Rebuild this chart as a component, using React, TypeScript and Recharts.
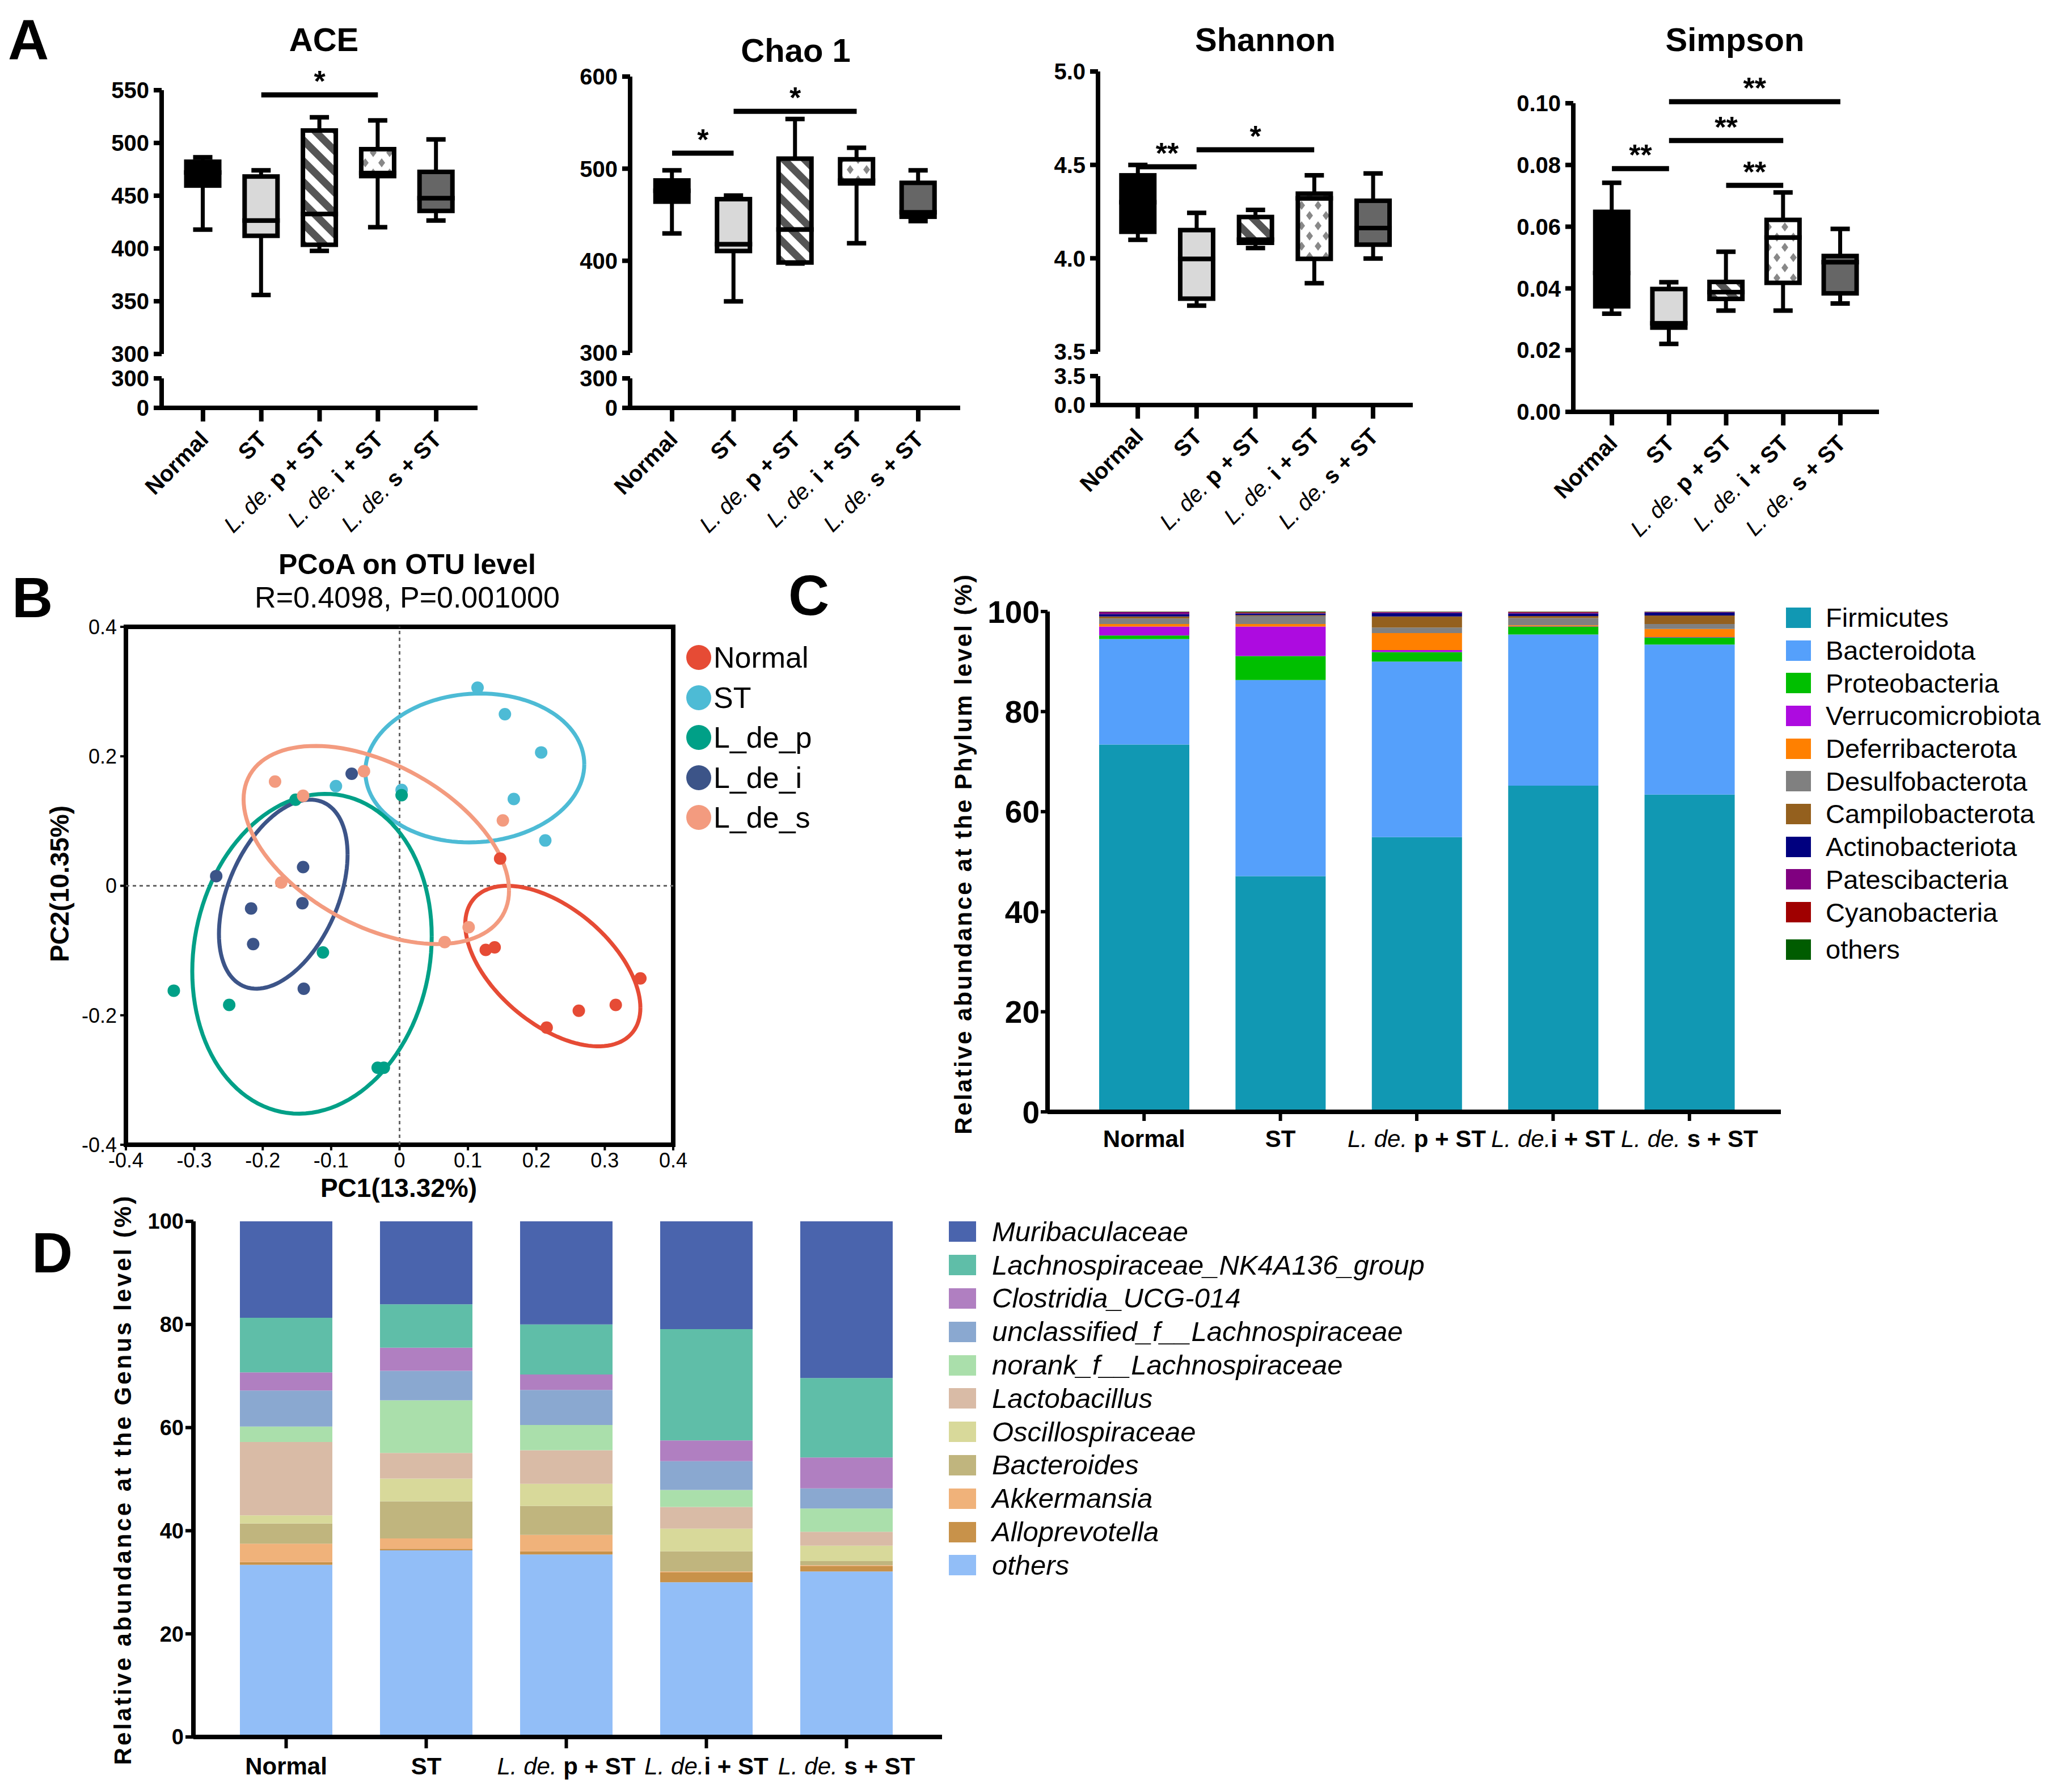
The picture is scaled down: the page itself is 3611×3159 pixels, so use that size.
import React from 'react';
import {
  ComposedChart, BarChart, Bar, XAxis, YAxis, ReferenceLine, ReferenceArea, ScatterChart, Scatter,
} from 'recharts';

const FONT = '"Liberation Sans", Arial, Helvetica, sans-serif';

// ---------- A: alpha diversity, [min, q1, median, q3, max] per group
const A_GROUPS = ['Normal', 'ST', 'L. de. p + ST', 'L. de. i + ST', 'L. de. s + ST'];

const ACE_STATS = [
  [417.9, 459.6, 472.0, 482.2, 486.4],
  [355.9, 412.0, 426.5, 468.2, 474.0],
  [397.7, 403.5, 432.7, 511.8, 524.3],
  [420.2, 468.6, 471.5, 494.1, 521.4],
  [426.5, 435.6, 447.7, 472.6, 503.3],
];
const CHAO_STATS = [
  [429.6, 464.2, 476.0, 487.2, 498.2],
  [355.9, 410.6, 418.0, 466.9, 470.8],
  [397.0, 398.1, 434.0, 510.9, 554.0],
  [419.1, 484.0, 487.0, 510.2, 522.7],
  [443.0, 447.8, 452.6, 484.6, 498.2],
];
const SHANNON_STATS = [
  [4.099, 4.142, 4.3, 4.444, 4.5],
  [3.747, 3.784, 3.997, 4.151, 4.243],
  [4.055, 4.083, 4.1, 4.221, 4.259],
  [3.867, 3.997, 4.321, 4.346, 4.444],
  [3.999, 4.073, 4.162, 4.308, 4.454],
];
const SIMPSON_STATS = [
  [0.0318, 0.0342, 0.045, 0.0648, 0.0742],
  [0.022, 0.0273, 0.0287, 0.0398, 0.042],
  [0.0328, 0.0366, 0.0388, 0.0421, 0.0519],
  [0.0328, 0.0418, 0.0565, 0.0622, 0.0711],
  [0.0351, 0.0384, 0.0485, 0.0505, 0.0593],
];

const ACE_TICKS = [300, 350, 400, 450, 500, 550];
const CHAO_TICKS = [300, 400, 500, 600];
const SHANNON_TICKS = [3.5, 4.0, 4.5, 5.0];
const SIMPSON_TICKS = [0, 0.02, 0.04, 0.06, 0.08, 0.1];

// significance bars: [from, to, height, stars]
const ACE_SIG = [['ST', 'L. de. i + ST', 545.6, '*']];
const CHAO_SIG = [['Normal', 'ST', 516.8, '*'], ['ST', 'L. de. i + ST', 562.3, '*']];
const SHANNON_SIG = [['Normal', 'ST', 4.49, '**'], ['ST', 'L. de. i + ST', 4.581, '*']];
const SIMPSON_SIG = [
  ['Normal', 'ST', 0.0788, '**'],
  ['ST', 'L. de. i + ST', 0.0879, '**'],
  ['ST', 'L. de. s + ST', 0.1005, '**'],
  ['L. de. p + ST', 'L. de. i + ST', 0.0734, '**'],
];

const BOX_FILLS = ['#000000', '#d9d9d9', 'url(#hatch)', 'url(#diamond)', '#666666'];

// ---------- B: PCoA
const PCOA_GROUPS = ['Normal', 'ST', 'L_de_p', 'L_de_i', 'L_de_s'];
const PCOA_COLORS = ['#e64b35', '#4dbbd5', '#00a087', '#3c5488', '#f39b7f'];
const PC_NORMAL = [[0.147, 0.042], [0.126, -0.099], [0.139, -0.095], [0.352, -0.143], [0.316, -0.184], [0.262, -0.193], [0.215, -0.219]];
const PC_ST = [[0.114, 0.306], [0.154, 0.265], [0.207, 0.206], [0.167, 0.134], [0.213, 0.07], [-0.093, 0.154], [0.003, 0.148]];
const PC_LDEP = [[-0.152, 0.133], [0.003, 0.14], [-0.112, -0.103], [-0.33, -0.162], [-0.249, -0.184], [-0.032, -0.281], [-0.023, -0.281]];
const PC_LDEI = [[-0.07, 0.173], [-0.268, 0.015], [-0.141, 0.029], [-0.217, -0.035], [-0.142, -0.027], [-0.214, -0.09], [-0.14, -0.159]];
const PC_LDES = [[-0.182, 0.161], [-0.141, 0.139], [-0.052, 0.177], [0.151, 0.101], [-0.173, 0.005], [0.101, -0.064], [0.066, -0.087]];
const PC_POINTS = [PC_NORMAL, PC_ST, PC_LDEP, PC_LDEI, PC_LDES];
// confidence ellipses: centre, half extents and correlation
const PC_ELLIPSES = [
  { cx: 0.224, cy: -0.124, rx: 0.128, ry: 0.124, rho: -0.52 },
  { cx: 0.11, cy: 0.182, rx: 0.16, ry: 0.115, rho: 0.05 },
  { cx: -0.128, cy: -0.105, rx: 0.175, ry: 0.247, rho: 0.11 },
  { cx: -0.17, cy: -0.013, rx: 0.094, ry: 0.146, rho: 0.42 },
  { cx: -0.034, cy: 0.063, rx: 0.194, ry: 0.153, rho: -0.46 },
];
const PCOA_X_TICKS = [-0.4, -0.3, -0.2, -0.1, 0, 0.1, 0.2, 0.3, 0.4];
const PCOA_Y_TICKS = [-0.4, -0.2, 0, 0.2, 0.4];

// ---------- C: phylum level (%), bottom to top
const CD_GROUPS = ['Normal', 'ST', 'L. de. p + ST', 'L. de.i + ST', 'L. de. s + ST'];
const PHYLA = ['Firmicutes', 'Bacteroidota', 'Proteobacteria', 'Verrucomicrobiota', 'Deferribacterota', 'Desulfobacterota', 'Campilobacterota', 'Actinobacteriota', 'Patescibacteria', 'Cyanobacteria', 'others'];
const FIRMICUTES = [73.4, 47.1, 54.9, 65.2, 63.4];
const BACTEROIDOTA = [21.1, 39.2, 35.1, 30.2, 30.0];
const PROTEOBACTERIA = [0.7, 4.8, 1.9, 1.6, 1.4];
const VERRUCOMICROBIOTA = [1.8, 5.9, 0.4, 0.05, 0.1];
const DEFERRIBACTEROTA = [0.5, 0.5, 3.4, 0.2, 1.6];
const DESULFOBACTEROTA = [1.1, 1.6, 1.1, 1.45, 1.0];
const CAMPILOBACTEROTA = [0.4, 0.15, 2.2, 0.4, 1.7];
const ACTINOBACTERIOTA = [0.5, 0.35, 0.7, 0.5, 0.6];
const PATESCIBACTERIA = [0.4, 0.1, 0.15, 0.2, 0.1];
const CYANOBACTERIA = [0.05, 0.15, 0.1, 0.15, 0.05];
const PHYLUM_OTHERS = [0.05, 0.15, 0.05, 0.05, 0.05];
const PHYLUM_VALUES = [FIRMICUTES, BACTEROIDOTA, PROTEOBACTERIA, VERRUCOMICROBIOTA, DEFERRIBACTEROTA, DESULFOBACTEROTA, CAMPILOBACTEROTA, ACTINOBACTERIOTA, PATESCIBACTERIA, CYANOBACTERIA, PHYLUM_OTHERS];
const PHYLUM_COLORS = ['#1198b3', '#55a0fb', '#00bf00', '#ad0be0', '#ff8000', '#808080', '#94601e', '#00007f', '#800080', '#a00000', '#005c00'];

// ---------- D: genus level (%), legend order top to bottom
const GENERA = ['Muribaculaceae', 'Lachnospiraceae_NK4A136_group', 'Clostridia_UCG-014', 'unclassified_f__Lachnospiraceae', 'norank_f__Lachnospiraceae', 'Lactobacillus', 'Oscillospiraceae', 'Bacteroides', 'Akkermansia', 'Alloprevotella', 'others'];
const MURIBACULACEAE = [18.7, 16.1, 20.0, 20.9, 30.4];
const LACHNO_NK4A136 = [10.6, 8.4, 9.7, 21.6, 15.4];
const CLOSTRIDIA_UCG014 = [3.5, 4.5, 3.0, 4.0, 6.0];
const UNCLASSIFIED_LACHNO = [7.0, 5.7, 6.8, 5.6, 3.9];
const NORANK_LACHNO = [3.0, 10.2, 4.9, 3.3, 4.5];
const LACTOBACILLUS = [14.2, 5.0, 6.5, 4.2, 2.7];
const OSCILLOSPIRACEAE = [1.6, 4.4, 4.3, 4.4, 3.0];
const BACTEROIDES = [3.9, 7.2, 5.6, 3.9, 0.8];
const AKKERMANSIA = [3.6, 2.0, 3.2, 0.2, 0.2];
const ALLOPREVOTELLA = [0.5, 0.3, 0.6, 1.9, 1.0];
const GENUS_OTHERS = [33.4, 36.2, 35.4, 30.0, 32.1];
const GENUS_VALUES = [MURIBACULACEAE, LACHNO_NK4A136, CLOSTRIDIA_UCG014, UNCLASSIFIED_LACHNO, NORANK_LACHNO, LACTOBACILLUS, OSCILLOSPIRACEAE, BACTEROIDES, AKKERMANSIA, ALLOPREVOTELLA, GENUS_OTHERS];
const GENUS_COLORS = ['#4a64ad', '#5fbea8', '#b07fc1', '#8aa8d0', '#aadfab', '#d9bba6', '#d8d99a', '#c0b57e', '#f0b27a', '#c8924a', '#92bef7'];

// ---------- helpers
const Empty = () => <g />;

const splitLabel = (s: string) => {
  if (!s.startsWith('L. de.')) return ['', s];
  const it = s.startsWith('L. de. ') ? 'L. de. ' : 'L. de.';
  return [it, s.slice(it.length)];
};

const RotTick = (props: any) => {
  const { x, y, payload } = props;
  const [it, bd] = splitLabel(String(payload.value));
  return (
    <g transform={`translate(${x + 12},${y + 32}) rotate(-45)`}>
      <text textAnchor="end" fontSize={40} fontFamily={FONT} fill="#000" style={{ whiteSpace: 'pre' }}>
        {it && <tspan fontStyle="italic">{it}</tspan>}
        <tspan fontWeight="bold">{bd}</tspan>
      </text>
    </g>
  );
};

const FlatTick = (props: any) => {
  const { x, y, payload } = props;
  const [it, bd] = splitLabel(String(payload.value));
  return (
    <text x={x} y={y + 44} textAnchor="middle" fontSize={42} fontFamily={FONT} fill="#000" style={{ whiteSpace: 'pre' }}>
      {it && <tspan fontStyle="italic">{it}</tspan>}
      <tspan fontWeight="bold">{bd}</tspan>
    </text>
  );
};

const boxIndex = (p: any) => {
  const i = A_GROUPS.indexOf(p.payload?.name);
  return i >= 0 ? i : p.index ?? 0;
};

const WhiskerLow = (p: any) => {
  const cx = p.x + p.width / 2;
  const yb = p.y + p.height;
  return (
    <g>
      <line x1={cx} x2={cx} y1={p.y} y2={yb} stroke="#000" strokeWidth={7} />
      <line x1={cx - 17} x2={cx + 17} y1={yb} y2={yb} stroke="#000" strokeWidth={8} />
    </g>
  );
};

const WhiskerHigh = (p: any) => {
  const cx = p.x + p.width / 2;
  return (
    <g>
      <line x1={cx} x2={cx} y1={p.y} y2={p.y + p.height} stroke="#000" strokeWidth={7} />
      <line x1={cx - 17} x2={cx + 17} y1={p.y} y2={p.y} stroke="#000" strokeWidth={8} />
    </g>
  );
};

const BoxHalf = (p: any) => (
  <rect x={p.x} y={p.y} width={p.width} height={Math.max(0, p.height)} fill={BOX_FILLS[boxIndex(p)]} stroke="#000" strokeWidth={8} />
);

const boxRows = (stats: number[][]) =>
  stats.map((s, i) => ({
    name: A_GROUPS[i],
    base: s[0],
    lw: s[1] - s[0],
    b1: s[2] - s[1],
    b2: s[3] - s[2],
    uw: s[4] - s[3],
  }));

const axisLineA = { stroke: '#000', strokeWidth: 8 };
const yTickA = { fontSize: 40, fontWeight: 'bold', fill: '#000', fontFamily: FONT };

type BoxCfg = {
  stats: number[][]; ticks: number[]; domain: number[]; fmt: (v: number) => string; sig: any[];
  left: number; width: number; top: number; bottom: number; pad: number;
  lower?: { top: number; bottom: number; brk: number };
};

const ACE_CFG: BoxCfg = {
  stats: ACE_STATS, ticks: ACE_TICKS, domain: [300, 550], fmt: (v) => String(v), sig: ACE_SIG,
  left: 100, width: 742, top: 159, bottom: 624, pad: 21.5, lower: { top: 667, bottom: 719, brk: 300 },
};
const CHAO_CFG: BoxCfg = {
  stats: CHAO_STATS, ticks: CHAO_TICKS, domain: [300, 600], fmt: (v) => String(v), sig: CHAO_SIG,
  left: 926, width: 767, top: 135, bottom: 622, pad: 19.75, lower: { top: 667, bottom: 719, brk: 300 },
};
const SHANNON_CFG: BoxCfg = {
  stats: SHANNON_STATS, ticks: SHANNON_TICKS, domain: [3.5, 5.0], fmt: (v) => v.toFixed(1), sig: SHANNON_SIG,
  left: 1751, width: 740, top: 126, bottom: 620, pad: 18.25, lower: { top: 663, bottom: 714, brk: 3.5 },
};
const SIMPSON_CFG: BoxCfg = {
  stats: SIMPSON_STATS, ticks: SIMPSON_TICKS, domain: [0, 0.1], fmt: (v) => v.toFixed(2), sig: SIMPSON_SIG,
  left: 2589, width: 724, top: 182, bottom: 726, pad: 17.75,
};

const X_AXIS_H = 260;

const BoxPanel = ({ cfg }: { cfg: BoxCfg }) => {
  const rows = boxRows(cfg.stats);
  const mt = 80;
  const mb = 30;
  const divTop = cfg.top - mt;
  const withAxis = !cfg.lower;
  const height = cfg.bottom - divTop + (withAxis ? X_AXIS_H : mb);
  const rotAxis = (
    <XAxis
      dataKey="name" interval={0} height={X_AXIS_H} padding={{ left: cfg.pad, right: cfg.pad }}
      tickSize={24} tickMargin={2} axisLine={axisLineA} tickLine={axisLineA} tick={(p: any) => <RotTick {...p} />}
    />
  );
  return (
    <>
      <div style={{ position: 'absolute', left: cfg.left, top: divTop }}>
        <ComposedChart width={cfg.width} height={height} data={rows} margin={{ top: mt, right: 0, bottom: withAxis ? 0 : mb, left: 0 }}>
          {withAxis ? rotAxis : <XAxis dataKey="name" hide padding={{ left: cfg.pad, right: cfg.pad }} />}
          <YAxis
            domain={cfg.domain} ticks={cfg.ticks} allowDataOverflow interval={0} width={185}
            tickSize={14} tickMargin={8} tick={yTickA} axisLine={axisLineA} tickLine={axisLineA} tickFormatter={cfg.fmt}
          />
          <Bar dataKey="base" stackId="s" barSize={58} shape={Empty} isAnimationActive={false} />
          <Bar dataKey="lw" stackId="s" barSize={58} shape={WhiskerLow} isAnimationActive={false} />
          <Bar dataKey="b1" stackId="s" barSize={58} shape={BoxHalf} isAnimationActive={false} />
          <Bar dataKey="b2" stackId="s" barSize={58} shape={BoxHalf} isAnimationActive={false} />
          <Bar dataKey="uw" stackId="s" barSize={58} shape={WhiskerHigh} isAnimationActive={false} />
          {cfg.sig.map((s, i) => (
            <ReferenceLine
              key={i}
              segment={[{ x: s[0], y: s[2] }, { x: s[1], y: s[2] }]}
              stroke="#000" strokeWidth={9} ifOverflow="visible"
              label={{ value: s[3], position: 'top', offset: 6, fill: '#000', fontSize: 52, fontWeight: 'bold', fontFamily: FONT }}
            />
          ))}
        </ComposedChart>
      </div>
      {cfg.lower && (
        <div style={{ position: 'absolute', left: cfg.left, top: cfg.lower.top - 30 }}>
          <ComposedChart
            width={cfg.width} height={30 + (cfg.lower.bottom - cfg.lower.top) + X_AXIS_H} data={rows}
            margin={{ top: 30, right: 0, bottom: 0, left: 0 }}
          >
            {rotAxis}
            <YAxis
              domain={[0, cfg.lower.brk]} ticks={[0, cfg.lower.brk]} allowDataOverflow interval={0} width={185}
              tickSize={14} tickMargin={8} tick={yTickA} axisLine={axisLineA} tickLine={axisLineA} tickFormatter={cfg.fmt}
            />
            <Bar dataKey="base" barSize={58} shape={Empty} isAnimationActive={false} />
          </ComposedChart>
        </div>
      )}
    </>
  );
};

const ellipsePoints = (e: { cx: number; cy: number; rx: number; ry: number; rho: number }) => {
  const k = Math.sqrt(1 - e.rho * e.rho);
  return Array.from({ length: 121 }, (_, i) => {
    const t = (i / 120) * 2 * Math.PI;
    return { x: e.cx + e.rx * Math.cos(t), y: e.cy + e.ry * (e.rho * Math.cos(t) + k * Math.sin(t)) };
  });
};

const Abs = ({ x, y, size, weight = 'normal', italic = false, rotate = 0, spacing = 0, children }: any) => (
  <div
    style={{
      position: 'absolute', left: x, top: y, transform: `translate(-50%, -50%) rotate(${rotate}deg)`,
      fontSize: size, fontWeight: weight, fontStyle: italic ? 'italic' : 'normal', letterSpacing: spacing,
      whiteSpace: 'nowrap', lineHeight: 1, color: '#000',
    }}
  >
    {children}
  </div>
);

const PatternDefs = () => (
  <svg width="0" height="0" style={{ position: 'absolute' }}>
    <defs>
      <pattern id="hatch" patternUnits="userSpaceOnUse" width="26" height="26" patternTransform="rotate(-45)">
        <rect width="26" height="26" fill="#ffffff" />
        <rect width="13" height="26" fill="#555555" />
      </pattern>
      <pattern id="diamond" patternUnits="userSpaceOnUse" width="29" height="36">
        <rect width="29" height="36" fill="#ffffff" />
        <path d="M7 2 L13 10 L7 18 L1 10 Z M22 20 L28 28 L22 36 L16 28 Z" fill="#888888" />
      </pattern>
    </defs>
  </svg>
);

const phylumRows = CD_GROUPS.map((g, i) => {
  const r: any = { name: g };
  PHYLA.forEach((p, k) => { r[p] = PHYLUM_VALUES[k][i]; });
  return r;
});
const genusRows = CD_GROUPS.map((g, i) => {
  const r: any = { name: g };
  GENERA.forEach((p, k) => { r[p] = GENUS_VALUES[k][i]; });
  return r;
});

const C_MINOR = Array.from({ length: 51 }, (_, i) => i * 2);
const D_MINOR = Array.from({ length: 26 }, (_, i) => i * 4);
const PCT_TICKS = [0, 20, 40, 60, 80, 100];

export default function App() {
  return (
    <div style={{ position: 'absolute', left: 0, top: 0, width: 3611, height: 3159, background: '#fff', overflow: 'hidden', fontFamily: FONT }}>
      <PatternDefs />

      {/* ---------- A ---------- */}
      <Abs x={50} y={70} size={100} weight="bold">A</Abs>
      <Abs x={571} y={70} size={58} weight="bold">ACE</Abs>
      <Abs x={1403} y={89} size={58} weight="bold">Chao 1</Abs>
      <Abs x={2231} y={70} size={58} weight="bold">Shannon</Abs>
      <Abs x={3059} y={70} size={58} weight="bold">Simpson</Abs>
      <BoxPanel cfg={ACE_CFG} />
      <BoxPanel cfg={CHAO_CFG} />
      <BoxPanel cfg={SHANNON_CFG} />
      <BoxPanel cfg={SIMPSON_CFG} />

      {/* ---------- B ---------- */}
      <Abs x={57} y={1053} size={100} weight="bold">B</Abs>
      <Abs x={718} y={995} size={50} weight="bold">PCoA on OTU level</Abs>
      <Abs x={718} y={1053} size={52}>R=0.4098, P=0.001000</Abs>
      <Abs x={703} y={2094} size={46} weight="bold">PC1(13.32%)</Abs>
      <Abs x={105} y={1558} size={46} weight="bold" rotate={-90}>PC2(10.35%)</Abs>
      <div style={{ position: 'absolute', left: 62, top: 1085 }}>
        <ScatterChart width={1165} height={1033} margin={{ top: 20, right: 40, bottom: 0, left: 0 }}>
          <XAxis
            type="number" dataKey="x" domain={[-0.4, 0.4]} ticks={PCOA_X_TICKS} allowDataOverflow interval={0} height={100}
            tickSize={10} tickMargin={4} axisLine={false} tickLine={{ stroke: '#000', strokeWidth: 4 }}
            tick={{ fontSize: 36, fill: '#000', fontFamily: FONT }} tickFormatter={(v: number) => (v === 0 ? '0' : String(v))}
          />
          <YAxis
            type="number" dataKey="y" domain={[-0.4, 0.4]} ticks={PCOA_Y_TICKS} allowDataOverflow interval={0} width={160}
            tickSize={10} tickMargin={6} axisLine={false} tickLine={{ stroke: '#000', strokeWidth: 4 }}
            tick={{ fontSize: 36, fill: '#000', fontFamily: FONT }} tickFormatter={(v: number) => (v === 0 ? '0' : String(v))}
          />
          <ReferenceLine x={0} stroke="#666" strokeDasharray="6 6" strokeWidth={3} />
          <ReferenceLine y={0} stroke="#666" strokeDasharray="6 6" strokeWidth={3} />
          {PC_ELLIPSES.map((e, i) => (
            <Scatter
              key={`e${i}`} data={ellipsePoints(e)} line={{ stroke: PCOA_COLORS[i], strokeWidth: 7 }} lineType="joint"
              shape={Empty} isAnimationActive={false}
            />
          ))}
          {PC_POINTS.map((pts, i) => (
            <Scatter
              key={`p${i}`} name={PCOA_GROUPS[i]} data={pts.map(([x, y]) => ({ x, y }))} fill={PCOA_COLORS[i]}
              shape={(p: any) => <circle cx={p.cx} cy={p.cy} r={11} fill={PCOA_COLORS[i]} />} isAnimationActive={false}
            />
          ))}
          <ReferenceArea x1={-0.4} x2={0.4} y1={-0.4} y2={0.4} fill="none" stroke="#000" strokeWidth={8} ifOverflow="visible" />
        </ScatterChart>
      </div>
      <div style={{ position: 'absolute', left: 1210, top: 1124 }}>
        {PCOA_GROUPS.map((g, i) => (
          <div key={g} style={{ display: 'flex', alignItems: 'center', height: 70.5 }}>
            <div style={{ width: 44, height: 44, borderRadius: 22, background: PCOA_COLORS[i] }} />
            <span style={{ fontSize: 52, marginLeft: 4, lineHeight: 1 }}>{g}</span>
          </div>
        ))}
      </div>

      {/* ---------- C ---------- */}
      <Abs x={1426} y={1049} size={100} weight="bold">C</Abs>
      <Abs x={1699} y={1505} size={42} weight="bold" rotate={-90} spacing={3}>Relative abundance at the Phylum level (%)</Abs>
      <div style={{ position: 'absolute', left: 1650, top: 1040 }}>
        <BarChart width={1490} height={1010} data={phylumRows} margin={{ top: 38, right: 0, bottom: 10, left: 0 }}>
          <XAxis
            dataKey="name" interval={0} height={80} padding={{ left: 50, right: 41 }} tickSize={16} tickMargin={2}
            axisLine={{ stroke: '#000', strokeWidth: 8 }} tickLine={{ stroke: '#000', strokeWidth: 6 }} tick={(p: any) => <FlatTick {...p} />}
          />
          <YAxis
            domain={[0, 100]} ticks={PCT_TICKS} allowDataOverflow interval={0} width={197} tickSize={12} tickMargin={2}
            axisLine={{ stroke: '#000', strokeWidth: 8 }} tickLine={{ stroke: '#000', strokeWidth: 6 }}
            tick={{ fontSize: 55, fontWeight: 'bold', fill: '#000', fontFamily: FONT }}
          />
          <YAxis
            yAxisId="minor" domain={[0, 100]} ticks={C_MINOR} allowDataOverflow interval={0} width={0} tickSize={7}
            axisLine={false} tickLine={{ stroke: '#000', strokeWidth: 4 }} tick={false}
          />
          {PHYLA.map((p, k) => (
            <Bar key={p} dataKey={p} stackId="c" fill={PHYLUM_COLORS[k]} barSize={159} isAnimationActive={false} />
          ))}
        </BarChart>
      </div>
      <div style={{ position: 'absolute', left: 3149, top: 1060 }}>
        {PHYLA.map((p, k) => (
          <div key={p} style={{ display: 'flex', alignItems: 'center', height: 57.7, marginTop: k === PHYLA.length - 1 ? 8 : 0 }}>
            <div style={{ width: 44, height: 36, background: PHYLUM_COLORS[k] }} />
            <span style={{ fontSize: 47, marginLeft: 26, lineHeight: 1 }}>{p}</span>
          </div>
        ))}
      </div>

      {/* ---------- D ---------- */}
      <Abs x={92} y={2208} size={100} weight="bold">D</Abs>
      <Abs x={217} y={2608} size={42} weight="bold" rotate={-90} spacing={4}>Relative abundance at the Genus level (%)</Abs>
      <div style={{ position: 'absolute', left: 150, top: 2113 }}>
        <BarChart width={1511} height={1029} data={genusRows} margin={{ top: 40, right: 0, bottom: 0, left: 0 }}>
          <XAxis
            dataKey="name" interval={0} height={80} padding={{ left: 40, right: 45 }} tickSize={20} tickMargin={2}
            axisLine={{ stroke: '#000', strokeWidth: 8 }} tickLine={{ stroke: '#000', strokeWidth: 6 }} tick={(p: any) => <FlatTick {...p} />}
          />
          <YAxis
            domain={[0, 100]} ticks={PCT_TICKS} allowDataOverflow interval={0} width={191} tickSize={14} tickMargin={3}
            axisLine={{ stroke: '#000', strokeWidth: 8 }} tickLine={{ stroke: '#000', strokeWidth: 6 }}
            tick={{ fontSize: 38, fontWeight: 'bold', fill: '#000', fontFamily: FONT }}
          />
          <YAxis
            yAxisId="minor" domain={[0, 100]} ticks={D_MINOR} allowDataOverflow interval={0} width={0} tickSize={8}
            axisLine={false} tickLine={{ stroke: '#000', strokeWidth: 4 }} tick={false}
          />
          {[...GENERA].reverse().map((g) => {
            const k = GENERA.indexOf(g);
            return <Bar key={g} dataKey={g} stackId="d" fill={GENUS_COLORS[k]} barSize={163} isAnimationActive={false} />;
          })}
        </BarChart>
      </div>
      <div style={{ position: 'absolute', left: 1673, top: 2142 }}>
        {GENERA.map((g, k) => (
          <div key={g} style={{ display: 'flex', alignItems: 'center', height: 58.8 }}>
            <div style={{ width: 48, height: 36, background: GENUS_COLORS[k] }} />
            <span style={{ fontSize: 49, fontStyle: 'italic', marginLeft: 28, lineHeight: 1 }}>{g}</span>
          </div>
        ))}
      </div>
    </div>
  );
}
